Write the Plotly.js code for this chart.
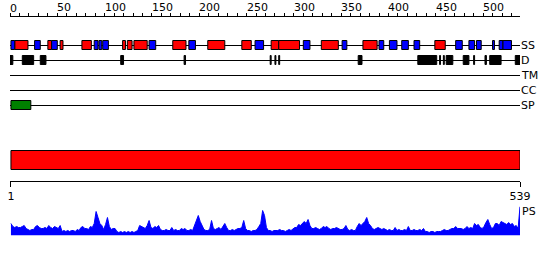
<!DOCTYPE html>
<html><head><meta charset="utf-8">
<script src="https://cdn.plot.ly/plotly-3.0.1.min.js"></script>
<style>html,body{margin:0;padding:0;background:#fff}#chart{width:550px;height:260px}</style>
</head><body><div id="chart"></div>
<script>
// ---------------- DATA ----------------
const seqLength = 539;
const topTickLabels = [0,50,100,150,200,250,300,350,400,450,500];
const bottomTickVals = [1,539];
const bottomTickText = ['1','539'];
const trackNames = ['SS','D','TM','CC','SP'];

// secondary structure: helix (red) and strand (blue)
const helixStart  = [5,40,53,76,119,124,131,172,209,245,276,284,329,373,449];
const helixEnd    = [19,44,56,86,122,129,145,186,227,255,284,306,347,388,460];
const strandStart = [1,26,44,89,94,98,147,189,259,310,351,390,401,414,427,471,485,493,510,517,521];
const strandEnd   = [5,32,50,93,97,104,154,196,268,317,356,395,409,421,433,478,491,498,512,521,530];
// disorder (black)
const disoStart = [0,13,32,117,184,275,280,284,368,431,454,458,461,479,490,502,507,534];
const disoEnd   = [3,25,38,120,185.5,276,281,285,372,451,455,459,468,485,491,503.5,519,539];
// signal peptide (green)
const spStart = [1];
const spEnd   = [22];
// domain bar (red)
const domStart = [1];
const domEnd   = [539];
// PS profile, sampled every 2 residues starting at residue 1
const psFirst = 1, psStep = 2;
const psValues = [
12,9,8,9,8,8,9,10,7,6,5,6,6,9,10,8,7,7,8,7,
10,8,7,9,8,7,10,4,5,4,5,4,5,5,4,6,5,8,9,7,
7,6,9,8,12,24,18,12,10,6,11,18,9,6,7,7,4,3,4,3,
4,3,4,3,4,3,4,5,10,9,8,7,10,15,8,7,9,8,10,6,
5,5,6,5,5,8,5,6,5,5,7,6,7,5,5,6,5,10,16,20,
14,10,6,5,5,6,15,7,6,7,8,6,9,12,8,5,5,6,5,6,
7,7,8,15,7,5,5,4,5,5,6,9,12,25,20,8,5,5,4,5,
5,5,6,5,5,4,5,6,5,7,8,8,11,10,12,14,12,16,10,7,
7,8,7,6,7,9,8,9,7,6,7,7,8,7,6,6,7,10,6,5,
6,5,5,9,12,10,12,14,18,12,10,7,6,7,8,7,6,7,6,5,
6,5,5,8,5,6,5,5,6,5,9,5,5,6,5,5,6,5,7,4,
4,3,4,4,3,4,4,4,5,6,5,5,6,7,7,9,7,7,7,6,
7,9,7,8,7,12,10,11,8,7,9,13,16,11,7,8,12,12,10,14,
13,12,11,13,11,12,9,10,7,29
];

// ---------------- LAYOUT CONSTANTS ----------------
const W = 550, H = 260;
const rowY = {SS:45.5, D:60.5, TM:75.5, CC:90.5, SP:105.5};
const boxH = 9;
const topAxisY = 15.5, bottomAxisY = 180.5;
const domY = 160, domH = 19;
const psBase = 235.5, psTop = 206.5, psMax = 29;
const FONT = {family:'DejaVu Sans, sans-serif', size:11, color:'#000'};

function lens(s,e){return s.map((v,i)=>e[i]-v);}
function rep(v,n){return Array(n).fill(v);}

const traces = [];
// backbone lines
traces.push({type:'bar', orientation:'h', xaxis:'x', yaxis:'y',
  y: trackNames.map(t=>rowY[t]), base: rep(0,5), x: rep(seqLength,5),
  width: 1, marker:{color:'#000', line:{width:0}}, hoverinfo:'skip'});
function boxes(s,e,y,color,h){
  return {type:'bar', orientation:'h', xaxis:'x', yaxis:'y',
    y: rep(y,s.length), base: s, x: lens(s,e), width:h,
    marker:{color:color, line:{color:'#000', width:1}}, hoverinfo:'skip'};
}
traces.push(boxes(helixStart, helixEnd, rowY.SS-0.5, '#ff0000', boxH));
traces.push(boxes(strandStart, strandEnd, rowY.SS-0.5, '#0000ff', boxH));
traces.push(boxes(disoStart, disoEnd, rowY.D-0.5, '#000000', boxH));
traces.push(boxes(spStart, spEnd, rowY.SP-0.5, '#008000', boxH));
traces.push(boxes(domStart, domEnd, domY, '#ff0000', domH));
// PS profile
const psX = psValues.map((v,i)=>psFirst+i*psStep);
traces.push({type:'scatter', mode:'lines', xaxis:'x2', yaxis:'y2',
  x: psX, y: psValues, fill:'tozeroy', fillcolor:'#0000ff',
  line:{color:'#0000ff', width:1}, hoverinfo:'skip'});

const annotations = [];
topTickLabels.forEach(v=>annotations.push({xref:'x', yref:'y', x:v, y:topAxisY,
  text:String(v), showarrow:false, xanchor:'left', yanchor:'bottom', xshift:-1, yshift:0, font:FONT, borderpad:0}));
trackNames.forEach(t=>annotations.push({xref:'x', yref:'y', x:seqLength, y:rowY[t],
  text:t, showarrow:false, xanchor:'left', yanchor:'middle', xshift:0, font:FONT, borderpad:0}));
annotations.push({xref:'x', yref:'y', x:seqLength, y:211.5, text:'PS', showarrow:false,
  xanchor:'left', yanchor:'middle', xshift:1, font:FONT, borderpad:0});

const layout = {
  width:W, height:H, margin:{l:10, r:30, t:0, b:0, pad:0},
  paper_bgcolor:'#fff', plot_bgcolor:'rgba(0,0,0,0)', showlegend:false, barmode:'overlay',
  font: FONT,
  xaxis:{domain:[0,1], range:[0,seqLength], side:'top', anchor:'free', position:1-topAxisY/H,
    showline:true, linecolor:'#000', linewidth:1, ticks:'outside', ticklen:3, tickcolor:'#000',
    tickwidth:1, tick0:0, dtick:10, showticklabels:false, showgrid:false, zeroline:false, fixedrange:true},
  yaxis:{domain:[0,1], range:[H,0], visible:false, fixedrange:true},
  xaxis2:{domain:[0,1], range:[0,seqLength], anchor:'free', position:1-bottomAxisY/H, side:'bottom',
    showline:true, linecolor:'#000', linewidth:1, ticks:'outside', ticklen:5, tickcolor:'#000',
    tickvals:bottomTickVals, ticktext:bottomTickText, tickfont:FONT, showgrid:false, zeroline:false, fixedrange:true},
  yaxis2:{domain:[1-psBase/H, 1-psTop/H], range:[0,psMax], anchor:'x2', visible:false, fixedrange:true},
  annotations: annotations
};
Plotly.newPlot('chart', traces, layout, {staticPlot:true, displayModeBar:false});
</script>
</body></html>
